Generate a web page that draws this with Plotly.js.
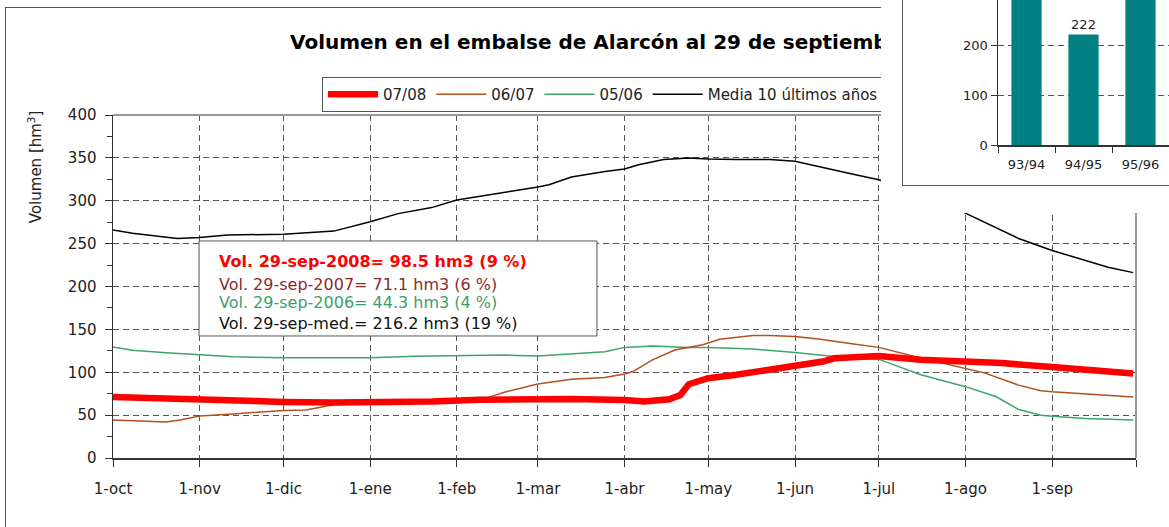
<!DOCTYPE html>
<html>
<head>
<meta charset="utf-8">
<script src="https://cdn.plot.ly/plotly-3.0.1.min.js"></script>
<style>
  html, body { margin:0; padding:0; background:#fff; width:1169px; height:527px; overflow:hidden; }
  #main { position:absolute; left:0; top:0; width:1169px; height:527px; }
  #frame { position:absolute; left:5px; top:7px; width:2000px; height:2000px; border:1.5px solid #555; pointer-events:none; }
  #cover { position:absolute; left:881px; top:0; width:300px; height:213px; background:#fff; }
  #inset { position:absolute; left:902px; top:-94px; width:500px; height:278px; border:1.5px solid #555; background:#fff; }
</style>
</head>
<body>
<div id="main"></div>
<div id="frame"></div>
<div id="cover"></div>
<div id="inset"></div>
<script>
// ---------- Main chart data ----------
const monthTicks = ['2007-10-01','2007-11-01','2007-12-01','2008-01-01','2008-02-01','2008-03-01','2008-04-01','2008-05-01','2008-06-01','2008-07-01','2008-08-01','2008-09-01'];
const monthLabels = ['1-oct','1-nov','1-dic','1-ene','1-feb','1-mar','1-abr','1-may','1-jun','1-jul','1-ago','1-sep'];
const endTick = ['2008-10-01'];

const seriesNames = ['07/08','06/07','05/06','Media 10 últimos años'];

const dates0708 = ['2007-10-01','2007-10-14','2007-11-01','2007-11-13','2007-12-01','2007-12-19','2008-01-01','2008-01-23','2008-02-09','2008-02-18','2008-03-01','2008-03-13','2008-04-01','2008-04-08','2008-04-17','2008-04-21','2008-04-24','2008-05-01','2008-05-11','2008-05-23','2008-06-01','2008-06-11','2008-06-15','2008-07-01','2008-07-16','2008-08-01','2008-08-14','2008-09-01','2008-09-13','2008-09-30'];
const vals0708  = [71.2,70,67.3,65.4,65.4,64.6,64.5,66,68,68.5,69.6,68.9,67.7,65.8,68.5,73.5,86,93,97,102.7,106.6,112.5,116.3,119,114.6,113.4,110.7,106,103.6,98.5];

const dates0607 = ['2007-10-01','2007-10-11','2007-10-20','2007-10-25','2007-11-01','2007-11-13','2007-11-19','2007-12-01','2007-12-09','2007-12-19','2008-01-01','2008-02-01','2008-02-05','2008-02-12','2008-02-18','2008-03-01','2008-03-13','2008-03-25','2008-04-01','2008-04-04','2008-04-11','2008-04-19','2008-04-29','2008-05-05','2008-05-17','2008-05-23','2008-06-01','2008-06-10','2008-06-22','2008-07-01','2008-07-16','2008-08-01','2008-08-08','2008-08-20','2008-08-28','2008-09-01','2008-09-13','2008-09-30'];
const vals0607  = [44.4,43.2,42,44.4,49,51.4,53,55.4,56,62,64.6,66.5,67.7,70.4,76.7,86.4,91.8,94,98,100.8,114.4,126,132,138.5,143,143,141.6,138.5,133,129,116.6,104.8,99,85,78.5,77.3,74.6,71.1];

const dates0506 = ['2007-10-01','2007-10-08','2007-10-20','2007-11-01','2007-11-13','2007-12-01','2008-01-01','2008-01-17','2008-02-01','2008-02-18','2008-03-01','2008-03-13','2008-03-25','2008-04-01','2008-04-11','2008-04-24','2008-05-01','2008-05-17','2008-06-01','2008-06-15','2008-07-01','2008-07-04','2008-07-16','2008-08-01','2008-08-12','2008-08-20','2008-08-28','2008-09-01','2008-09-13','2008-09-30'];
const vals0506  = [129.6,125.7,122.6,120.6,118,116.8,116.8,118.8,119.6,120,119,121.4,124,129,130.7,129,129,127,123,118.3,115,111.5,97,83.2,71.4,56.5,49.8,48.7,46,44.3];

const datesMedia = ['2007-10-01','2007-10-08','2007-10-24','2007-11-01','2007-11-11','2007-12-01','2007-12-19','2008-01-01','2008-01-11','2008-01-23','2008-02-01','2008-02-09','2008-02-18','2008-03-01','2008-03-05','2008-03-13','2008-03-25','2008-04-01','2008-04-06','2008-04-15','2008-04-24','2008-05-01','2008-05-11','2008-05-23','2008-06-01','2008-06-13','2008-06-21','2008-07-01','2008-07-16','2008-07-31','2008-08-08','2008-08-20','2008-09-01','2008-09-13','2008-09-21','2008-09-30'];
const valsMedia  = [265.8,262,256,257,260,261,264.6,275.5,285,292,300.8,305,309,316,318.7,327.6,334,337,342,348,350,348.6,348,348,346,337,331.5,324.5,307,287,274.7,256,242,230,222.5,216.2];

const boxLines = [
  'Vol. 29-sep-2008= 98.5 hm3 (9 %)',
  'Vol. 29-sep-2007= 71.1 hm3 (6 %)',
  'Vol. 29-sep-2006= 44.3 hm3 (4 %)',
  'Vol. 29-sep-med.= 216.2 hm3 (19 %)'
];

// ---------- Inset data ----------
const insetCats = ['93/94','94/95','95/96'];
const insetVals = [335, 222, 345];

const FONT = 'DejaVu Sans, Verdana, sans-serif';

const traces = [
  {x: datesMedia, y: valsMedia, name: seriesNames[3], legendrank: 4, mode:'lines', line:{color:'#000000', width:1.5}},
  {x: dates0506, y: vals0506, name: seriesNames[2], legendrank: 3, mode:'lines', line:{color:'#3DA46C', width:1.5}},
  {x: dates0607, y: vals0607, name: seriesNames[1], legendrank: 2, mode:'lines', line:{color:'#B2501E', width:1.5}},
  {x: dates0708, y: vals0708, name: seriesNames[0], legendrank: 1, mode:'lines', line:{color:'#FF0000', width:6.5}}
];

const lineColors = ['#FF0000','#8E2A2A','#3D9E6A','#111111'];
const lineY = [0.5743, 0.5044, 0.4519, 0.3907];
const boxAnn = boxLines.map((t,i)=>({
  xref:'paper', yref:'paper', x:0.1017, y:lineY[i], xanchor:'left', yanchor:'middle',
  text: i===0 ? '<b>'+t+'</b>' : t, showarrow:false,
  font:{family:FONT, size:16, color:lineColors[i]}
}));

const layout = {
  width:1169, height:527,
  margin:{l:113, r:33, t:115, b:69},
  paper_bgcolor:'#ffffff', plot_bgcolor:'#ffffff',
  hovermode:false,
  font:{family:FONT, size:15, color:'#222'},
  title:{text:'<b>Volumen en el embalse de Alarcón al 29 de septiembre de 2008</b>', xref:'container', yref:'container',
         x:290/1169, xanchor:'left', y:1-42/527, yanchor:'middle', font:{family:FONT, size:20, color:'#000'}},
  showlegend:true,
  legend:{orientation:'h', xref:'container', yref:'container', x:322/1169, xanchor:'left', y:1-77/527, yanchor:'top',
          bordercolor:'#555', borderwidth:1, bgcolor:'#fff', font:{family:FONT, size:15, color:'#222'},
          itemwidth:50, traceorder:'normal'},
  xaxis:{type:'date', range:['2007-10-01','2008-10-01'], tickmode:'array', tickvals:monthTicks, ticktext:monthLabels,
         ticks:'outside', ticklen:7, tickcolor:'#333', tickwidth:1, showline:true, linecolor:'#333', linewidth:1.5,
         minor:{tickmode:'array', tickvals:endTick, ticks:'outside', ticklen:7, tickcolor:'#333', showgrid:false},
         showgrid:true, gridcolor:'#555', gridwidth:1, griddash:'6px,4px', zeroline:false,
         tickfont:{family:FONT, size:15, color:'#222'}, ticklabelstandoff:9},
  yaxis:{range:[0,400], tick0:0, dtick:50, ticks:'outside', ticklen:7, tickcolor:'#333', showline:true, linecolor:'#333', linewidth:1.5,
         minor:{dtick:25, ticks:'outside', ticklen:5, tickcolor:'#333', showgrid:false},
         showgrid:true, gridcolor:'#555', gridwidth:1, griddash:'6px,4px', zeroline:false,
         tickfont:{family:FONT, size:15, color:'#222'}, ticklabelstandoff:5},
  shapes:[
    {type:'line', xref:'paper', yref:'paper', x0:0, x1:1, y0:1, y1:1, line:{color:'#999', width:2}},
    {type:'line', xref:'paper', yref:'paper', x0:1, x1:1, y0:0, y1:1, line:{color:'#999', width:2}},
    {type:'rect', xref:'paper', yref:'paper', x0:0.0841, x1:0.4731, y0:0.3557, y1:0.6327, fillcolor:'#fff', line:{color:'#555', width:1}, layer:'above'}
  ],
  annotations:[
    {xref:'paper', yref:'paper', x:-0.0762, y:0.848, textangle:-90, showarrow:false, xanchor:'center', yanchor:'middle',
     text:'Volumen [hm<sup>3</sup>]', font:{family:FONT, size:15, color:'#222'}}
  ].concat(boxAnn)
};

Plotly.newPlot('main', traces, layout, {staticPlot:true, displayModeBar:false});

// ---------- Inset bar chart ----------
const insetTrace = [{type:'bar', x:insetCats, y:insetVals, marker:{color:'#008080'},
  text:insetVals.map(String), textposition:'outside', textfont:{family:FONT, size:13, color:'#222'}, cliponaxis:false}];
const insetLayout = {
  width:500, height:278, margin:{l:95, r:63, t:39, b:40},
  paper_bgcolor:'#fff', plot_bgcolor:'#fff', showlegend:false, bargap:0.47, hovermode:false,
  xaxis:{type:'category', range:[-0.5,5.5], tickson:'boundaries', ticks:'outside', ticklen:6, tickcolor:'#333',
         showline:true, linecolor:'#333', linewidth:1.5, showgrid:false, tickfont:{family:FONT, size:13, color:'#222'},
         ticklabelstandoff:7},
  yaxis:{range:[0,400], dtick:100, ticks:'outside', ticklen:6, tickcolor:'#333', showline:true, linecolor:'#333', linewidth:1.5,
         showgrid:true, gridcolor:'#555', griddash:'6px,4px', zeroline:false, tickfont:{family:FONT, size:13, color:'#222'}}
};
Plotly.newPlot('inset', insetTrace, insetLayout, {staticPlot:true, displayModeBar:false});
</script>
</body>
</html>
